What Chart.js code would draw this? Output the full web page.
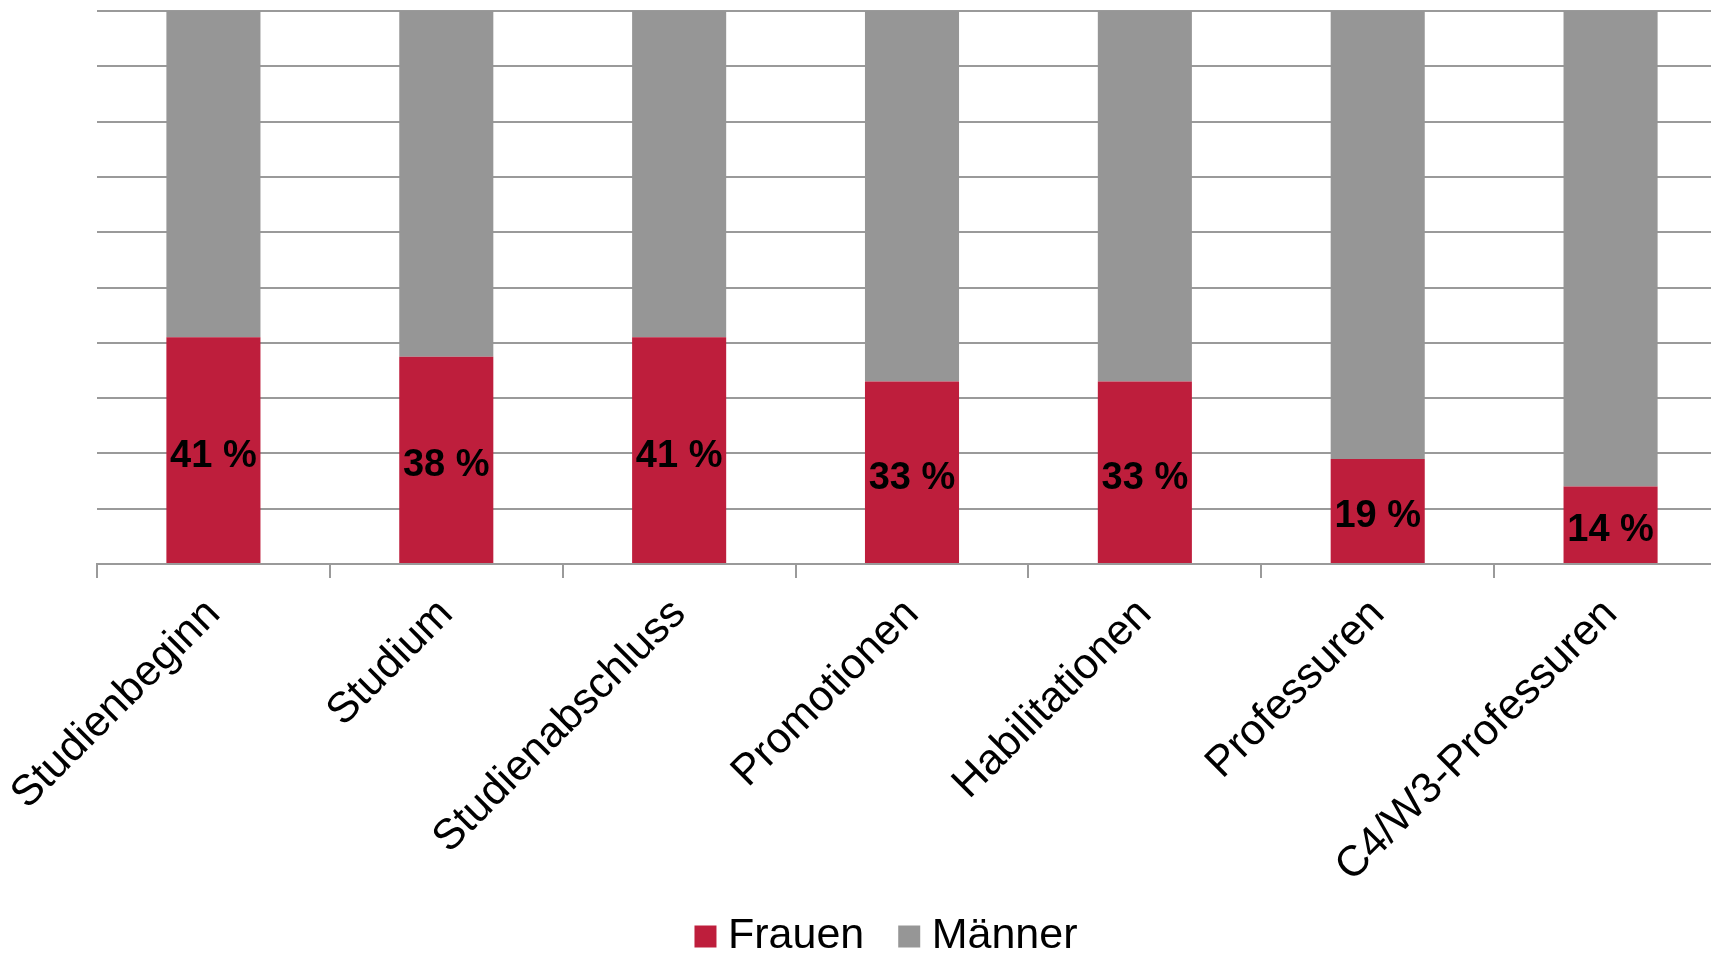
<!DOCTYPE html>
<html>
<head>
<meta charset="utf-8">
<script src="https://cdn.jsdelivr.net/npm/chart.js@4"></script>
<style>
  html, body { margin: 0; padding: 0; background: #fff; overflow: hidden; }
  #wrap { width: 1768px; height: 978px; position: relative; }
</style>
</head>
<body>
<div id="wrap"><canvas id="bars"></canvas></div>
<script>
const categories = ["Studienbeginn", "Studium", "Studienabschluss", "Promotionen", "Habilitationen", "Professuren", "C4/W3-Professuren"];
const frauen = [41, 37.5, 41, 33, 33, 19, 14];
const maenner = [59, 62.5, 59, 67, 67, 81, 86];
const yTicks = [0, 10, 20, 30, 40, 50, 60, 70, 80, 90, 100];

const RED = "#be1e3c";
const GREY = "#969696";
const LINE = "#9a9a9a";
const FONT = "'Liberation Sans', Arial, sans-serif";

// draw the percentage inside each red bar
const barLabels = {
  id: "barLabels",
  afterDatasetsDraw(chart) {
    const ctx = chart.ctx;
    const meta = chart.getDatasetMeta(0);
    ctx.save();
    ctx.font = "bold 38px " + FONT;
    ctx.fillStyle = "#000";
    ctx.textAlign = "center";
    ctx.textBaseline = "middle";
    meta.data.forEach((bar, i) => {
      const p = bar.getCenterPoint();
      ctx.fillText(Math.round(frauen[i]) + " %", p.x, p.y + 6);
    });
    ctx.restore();
  }
};

// legend sits centred under the whole picture, a bit closer to the axis labels
const legendShift = {
  id: "legendShift",
  afterLayout(chart) {
    const lg = chart.legend;
    lg.left = 53;
    lg.right = 1729;
    lg.top -= 10;
    lg.bottom -= 10;
  }
};

const barConfig = {
  type: "bar",
  data: {
    labels: categories,
    datasets: [
      { label: "Frauen", data: frauen, backgroundColor: RED, categoryPercentage: 1, barPercentage: 0.404 },
      { label: "Männer", data: maenner, backgroundColor: GREY, categoryPercentage: 1, barPercentage: 0.404 }
    ]
  },
  options: {
    responsive: true,
    maintainAspectRatio: false,
    animation: false,
    layout: { padding: { left: 97, right: 41, top: 11, bottom: 0 } },
    plugins: {
      tooltip: { enabled: false },
      legend: {
        position: "bottom",
        labels: {
          usePointStyle: true,
          pointStyle: "rect",
          boxWidth: 2,
          boxHeight: 22,
          padding: 44,
          color: "#000",
          font: { family: FONT, size: 43 }
        }
      }
    },
    scales: {
      x: {
        stacked: true,
        offset: true,
        afterFit: (scale) => { scale.height = 317; },
        border: { display: true, color: LINE, width: 2 },
        grid: { offset: true, drawOnChartArea: false, drawTicks: true, tickLength: 14, color: LINE, lineWidth: 2 },
        ticks: {
          color: "#000",
          maxRotation: 45,
          minRotation: 45,
          padding: 11,
          font: { family: FONT, size: 43 }
        }
      },
      y: {
        stacked: true,
        min: 0,
        max: 100,
        afterBuildTicks: (scale) => { scale.ticks = yTicks.map(v => ({ value: v })); },
        border: { display: false },
        grid: { color: LINE, lineWidth: 2, drawTicks: false },
        ticks: { display: false }
      }
    }
  },
  plugins: [barLabels, legendShift]
};

const barsCtx = document.getElementById("bars");
window.myBar = new Chart(barsCtx, barConfig);
</script>
</body>
</html>
